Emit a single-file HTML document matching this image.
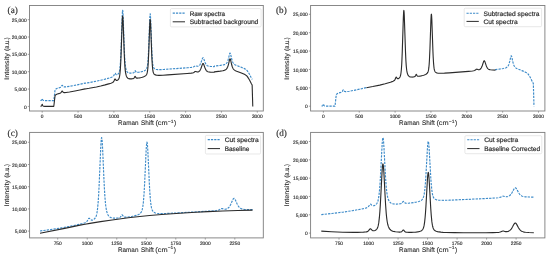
<!DOCTYPE html>
<html><head><meta charset="utf-8"><title>Raman spectra figure</title>
<style>
html,body{margin:0;padding:0;background:#fff;}
body{width:550px;height:255px;overflow:hidden;}
svg{display:block;filter:blur(0.3px);}
text.t{stroke-width:0.14px;}
text.lg{stroke-width:0.18px;}
text{font-family:"Liberation Sans", sans-serif;fill:#2a2a2a;stroke:#2a2a2a;stroke-width:0.1px;text-rendering:geometricPrecision;}
</style></head><body>
<svg width="550" height="255" viewBox="0 0 550 255">
<rect width="550" height="255" fill="#fff"/>
<text x="7.60" y="12.80" style="font-family:'Liberation Serif', serif;stroke-width:0.15px" font-size="9.2" fill="#222">(a)</text>
<rect x="29.50" y="5.50" width="233.80" height="105.50" fill="none" stroke="#7c7c7c" stroke-width="0.9"/>
<path d="M40.41,100.56 41.05,100.41 41.27,100.31 41.48,100.12 41.70,99.79 42.06,98.80 42.20,98.59 42.34,98.80 42.70,99.79 42.92,100.12 43.28,100.38 43.78,100.53 44.64,100.61 46.07,100.64 53.67,100.65 53.74,100.55 53.82,100.27 53.96,99.30 54.96,90.74 55.11,89.93 55.25,89.53 55.97,88.94 56.76,88.50 57.40,88.27 59.62,87.63 60.12,87.43 60.56,87.20 60.84,86.99 61.13,86.69 61.85,85.53 62.06,85.29 62.20,85.28 62.35,85.38 63.06,86.37 63.35,86.62 63.64,86.77 64.07,86.89 64.57,86.93 66.08,86.83 69.52,86.30 74.97,85.30 79.91,84.29 85.15,83.13 85.22,83.21 89.16,82.56 96.41,81.20 100.71,80.27 105.15,79.16 109.53,77.92 110.96,77.45 112.04,77.04 112.54,76.80 112.97,76.54 113.25,76.29 113.54,75.96 113.97,75.24 114.69,73.61 114.83,73.38 114.98,73.26 115.12,73.26 115.26,73.37 116.05,74.47 116.27,74.65 116.55,74.77 116.91,74.77 117.34,74.60 117.77,74.31 118.20,73.90 118.56,73.43 118.92,72.77 119.21,72.02 119.49,70.92 119.71,69.78 119.92,68.24 120.35,63.56 120.71,57.50 121.07,49.16 122.22,15.38 122.43,11.65 122.58,10.44 122.65,10.27 122.72,10.38 122.86,11.47 123.08,15.02 124.30,49.40 124.66,56.86 125.09,62.94 125.30,65.02 125.59,67.09 125.87,68.59 126.23,69.92 126.59,70.84 127.02,71.61 127.52,72.21 128.17,72.68 128.60,72.87 129.10,73.02 130.25,73.17 131.82,73.13 133.12,72.93 133.62,72.72 133.98,72.41 134.33,71.87 134.84,70.85 135.05,70.65 135.12,70.66 135.27,70.79 135.77,71.68 136.06,72.06 136.34,72.28 136.70,72.40 137.35,72.42 138.49,72.29 140.00,72.03 141.50,71.70 142.65,71.39 143.66,71.04 144.44,70.69 145.16,70.28 145.73,69.83 146.24,69.29 146.60,68.72 146.88,68.06 147.10,67.37 147.31,66.44 147.67,64.08 147.96,61.16 148.24,57.03 148.75,46.39 149.68,20.29 149.97,15.10 150.11,13.96 150.18,13.81 150.25,13.94 150.40,15.05 150.61,18.59 151.76,49.49 152.04,55.33 152.40,60.63 152.76,64.03 152.98,65.39 153.26,66.63 153.55,67.44 153.84,67.97 154.20,68.42 154.70,68.81 155.27,69.10 155.99,69.33 156.78,69.49 157.78,69.59 160.29,69.62 164.23,69.43 187.46,67.74 191.34,67.40 192.55,67.21 193.42,66.96 194.13,66.59 195.14,65.85 195.57,65.70 195.92,65.76 196.64,66.07 197.07,66.20 197.50,66.25 198.00,66.19 198.58,65.98 199.15,65.60 199.65,65.08 200.16,64.36 200.59,63.53 201.02,62.49 202.38,58.58 202.74,57.93 202.88,57.80 203.02,57.75 203.17,57.79 203.31,57.91 203.67,58.54 205.03,62.37 205.46,63.38 205.89,64.19 206.32,64.81 206.82,65.34 207.33,65.70 207.97,66.00 208.97,66.26 210.26,66.43 211.99,66.53 214.28,66.59 214.35,66.16 220.30,65.40 222.88,64.99 224.32,64.60 224.89,64.37 225.47,64.06 225.97,63.70 226.40,63.30 226.76,62.87 227.11,62.32 227.62,61.31 228.05,60.14 228.55,58.33 229.55,53.99 229.84,53.25 229.98,53.10 230.05,53.08 230.27,53.28 230.56,54.04 231.63,58.77 232.20,60.78 232.56,61.73 232.92,62.48 233.28,63.08 233.71,63.65 234.50,64.40 235.50,65.02 236.65,65.51 240.74,67.07 243.82,68.34 245.33,69.12 246.62,70.03 247.33,70.82 248.27,72.23 249.63,74.56 251.13,77.54 252.28,79.41" fill="none" stroke="#3d8bc9" stroke-width="1.15" stroke-dasharray="2.3 1.1" stroke-linejoin="round"/>
<path d="M40.41,106.28 41.05,106.14 41.27,106.03 41.48,105.84 41.70,105.51 42.06,104.52 42.20,104.31 42.34,104.52 42.70,105.51 42.92,105.84 43.28,106.11 43.78,106.25 44.64,106.33 46.07,106.37 53.67,106.37 53.74,106.27 53.82,105.99 53.96,105.03 54.96,96.47 55.11,95.65 55.25,95.26 55.97,94.66 56.76,94.23 57.40,93.99 59.62,93.35 60.12,93.16 60.56,92.93 60.84,92.71 61.13,92.42 61.85,91.25 62.06,91.02 62.20,91.00 62.35,91.10 63.06,92.10 63.35,92.34 63.64,92.50 64.07,92.61 64.57,92.65 66.08,92.55 69.52,92.03 74.97,91.02 79.91,90.02 85.15,88.85 85.22,88.93 89.16,88.29 96.41,86.93 100.71,86.00 105.15,84.89 109.53,83.64 110.96,83.18 112.04,82.77 112.54,82.53 112.97,82.26 113.25,82.02 113.54,81.69 113.97,80.97 114.69,79.33 114.83,79.10 114.98,78.98 115.12,78.98 115.26,79.09 116.05,80.20 116.27,80.38 116.55,80.50 116.91,80.49 117.34,80.33 117.77,80.04 118.20,79.62 118.56,79.16 118.92,78.50 119.21,77.74 119.49,76.65 119.71,75.50 119.92,73.97 120.35,69.29 120.71,63.23 121.07,54.89 122.22,21.10 122.43,17.37 122.58,16.17 122.65,15.99 122.72,16.11 122.86,17.20 123.08,20.74 124.30,55.13 124.66,62.59 125.01,67.84 125.23,70.11 125.52,72.36 125.80,73.98 126.09,75.17 126.45,76.23 126.88,77.11 127.31,77.71 127.88,78.23 128.31,78.48 128.81,78.67 129.96,78.87 130.75,78.91 131.61,78.88 132.40,78.80 133.04,78.67 133.55,78.48 133.98,78.13 134.33,77.59 134.84,76.57 135.05,76.37 135.12,76.38 135.27,76.52 135.77,77.40 136.06,77.78 136.34,78.00 136.70,78.12 137.35,78.14 138.28,78.05 139.64,77.83 141.15,77.51 142.36,77.20 143.44,76.85 144.37,76.45 145.09,76.05 145.66,75.62 146.17,75.10 146.60,74.44 146.88,73.78 147.10,73.10 147.31,72.16 147.67,69.80 147.96,66.89 148.24,62.75 148.75,52.11 149.68,26.02 149.97,20.83 150.11,19.68 150.18,19.53 150.25,19.67 150.40,20.78 150.61,24.32 151.69,53.54 151.97,59.74 152.33,65.46 152.69,69.21 152.90,70.71 153.12,71.80 153.34,72.59 153.62,73.32 153.91,73.80 154.34,74.28 154.84,74.62 155.49,74.91 156.27,75.13 157.14,75.26 158.14,75.33 159.43,75.35 162.94,75.23 167.82,74.92 187.18,73.49 191.26,73.13 192.55,72.94 193.42,72.69 194.13,72.31 195.14,71.57 195.57,71.43 195.92,71.49 196.64,71.80 197.07,71.93 197.50,71.97 198.00,71.91 198.58,71.70 199.15,71.32 199.65,70.81 200.16,70.08 200.59,69.25 201.02,68.22 202.38,64.31 202.74,63.66 202.88,63.53 203.02,63.48 203.17,63.52 203.31,63.64 203.67,64.27 205.03,68.10 205.46,69.11 205.89,69.92 206.32,70.54 206.82,71.06 207.33,71.42 207.97,71.72 208.97,71.98 210.26,72.15 211.99,72.26 214.28,72.31 214.35,71.88 220.23,71.14 222.81,70.73 224.25,70.35 224.82,70.13 225.39,69.83 225.90,69.49 226.33,69.10 226.68,68.69 227.04,68.17 227.54,67.21 228.05,65.87 228.55,64.05 229.55,59.72 229.84,58.98 229.98,58.83 230.05,58.81 230.27,59.00 230.56,59.77 231.63,64.50 232.20,66.51 232.56,67.45 232.92,68.21 233.28,68.81 233.71,69.38 234.50,70.13 235.50,70.75 236.65,71.24 240.74,72.80 243.82,74.06 245.33,74.84 246.62,75.76 246.98,76.12 247.41,76.65 248.34,78.07 249.63,80.29 251.13,83.27 252.14,84.92 252.78,106.40" fill="none" stroke="#2b2b2b" stroke-width="1.12" stroke-linejoin="round"/>
<line x1="42.20" y1="111.00" x2="42.20" y2="112.70" stroke="#7c7c7c" stroke-width="0.7"/>
<text class="t" x="42.20" y="117.80" font-size="4.85" text-anchor="middle">0</text>
<line x1="78.05" y1="111.00" x2="78.05" y2="112.70" stroke="#7c7c7c" stroke-width="0.7"/>
<text class="t" x="78.05" y="117.80" font-size="4.85" text-anchor="middle">500</text>
<line x1="113.90" y1="111.00" x2="113.90" y2="112.70" stroke="#7c7c7c" stroke-width="0.7"/>
<text class="t" x="113.90" y="117.80" font-size="4.85" text-anchor="middle">1000</text>
<line x1="149.75" y1="111.00" x2="149.75" y2="112.70" stroke="#7c7c7c" stroke-width="0.7"/>
<text class="t" x="149.75" y="117.80" font-size="4.85" text-anchor="middle">1500</text>
<line x1="185.60" y1="111.00" x2="185.60" y2="112.70" stroke="#7c7c7c" stroke-width="0.7"/>
<text class="t" x="185.60" y="117.80" font-size="4.85" text-anchor="middle">2000</text>
<line x1="221.45" y1="111.00" x2="221.45" y2="112.70" stroke="#7c7c7c" stroke-width="0.7"/>
<text class="t" x="221.45" y="117.80" font-size="4.85" text-anchor="middle">2500</text>
<line x1="257.30" y1="111.00" x2="257.30" y2="112.70" stroke="#7c7c7c" stroke-width="0.7"/>
<text class="t" x="257.30" y="117.80" font-size="4.85" text-anchor="middle">3000</text>
<line x1="27.80" y1="106.40" x2="29.50" y2="106.40" stroke="#7c7c7c" stroke-width="0.7"/>
<text class="t" x="26.70" y="108.50" font-size="4.85" text-anchor="end">0</text>
<line x1="27.80" y1="89.05" x2="29.50" y2="89.05" stroke="#7c7c7c" stroke-width="0.7"/>
<text class="t" x="26.70" y="91.15" font-size="4.85" text-anchor="end">5,000</text>
<line x1="27.80" y1="71.70" x2="29.50" y2="71.70" stroke="#7c7c7c" stroke-width="0.7"/>
<text class="t" x="26.70" y="73.80" font-size="4.85" text-anchor="end">10,000</text>
<line x1="27.80" y1="54.35" x2="29.50" y2="54.35" stroke="#7c7c7c" stroke-width="0.7"/>
<text class="t" x="26.70" y="56.45" font-size="4.85" text-anchor="end">15,000</text>
<line x1="27.80" y1="37.00" x2="29.50" y2="37.00" stroke="#7c7c7c" stroke-width="0.7"/>
<text class="t" x="26.70" y="39.10" font-size="4.85" text-anchor="end">20,000</text>
<line x1="27.80" y1="19.65" x2="29.50" y2="19.65" stroke="#7c7c7c" stroke-width="0.7"/>
<text class="t" x="26.70" y="21.75" font-size="4.85" text-anchor="end">25,000</text>
<text x="118.10" y="125.10" font-size="6.70" textLength="20.40" lengthAdjust="spacingAndGlyphs">Raman</text>
<text x="141.00" y="125.10" font-size="6.70" textLength="12.80" lengthAdjust="spacingAndGlyphs">Shift</text>
<text x="155.40" y="125.10" font-size="6.70" textLength="12.30" lengthAdjust="spacingAndGlyphs">(cm</text>
<text x="167.80" y="122.60" font-size="4.82" textLength="5.70" lengthAdjust="spacingAndGlyphs">&#8722;1</text>
<text x="173.90" y="125.10" font-size="6.70">)</text>
<text transform="translate(8.90,0) rotate(-90)" x="-79.80" y="0" font-size="6.70" textLength="26.60" lengthAdjust="spacingAndGlyphs">Intensity</text>
<text transform="translate(8.90,0) rotate(-90)" x="-50.80" y="0" font-size="6.70" textLength="13.60" lengthAdjust="spacingAndGlyphs">(a.u.)</text>
<rect x="170.40" y="8.60" width="90.70" height="18.30" rx="1.2" fill="#fff" fill-opacity="0.85" stroke="#d9d9d9" stroke-width="0.6"/>
<line x1="172.70" y1="13.10" x2="185.00" y2="13.10" stroke="#3d8bc9" stroke-width="1.05" stroke-dasharray="2.2 1.05"/>
<text class="lg" x="189.70" y="15.80" font-size="6.50" textLength="35.40" lengthAdjust="spacingAndGlyphs">Raw spectra</text>
<line x1="172.70" y1="21.80" x2="185.00" y2="21.80" stroke="#2b2b2b" stroke-width="1.0"/>
<text class="lg" x="189.70" y="23.80" font-size="6.50" textLength="68.60" lengthAdjust="spacingAndGlyphs">Subtracted background</text>
<text x="276.00" y="12.80" style="font-family:'Liberation Serif', serif;stroke-width:0.15px" font-size="9.2" fill="#222">(b)</text>
<rect x="310.60" y="5.50" width="234.30" height="105.50" fill="none" stroke="#7c7c7c" stroke-width="0.9"/>
<path d="M321.61,106.08 322.25,105.92 322.47,105.81 322.68,105.61 322.90,105.26 323.26,104.21 323.40,103.99 323.54,104.21 323.90,105.26 324.12,105.61 324.48,105.89 324.98,106.04 325.84,106.13 327.27,106.17 334.87,106.17 334.94,106.07 335.02,105.77 335.16,104.74 336.16,95.68 336.31,94.82 336.45,94.40 337.17,93.77 337.96,93.31 338.60,93.06 340.82,92.38 341.32,92.17 341.76,91.93 342.04,91.70 342.33,91.38 343.05,90.15 343.26,89.91 343.40,89.89 343.55,89.99 344.26,91.05 344.48,91.25 344.77,91.44 345.13,91.56 345.56,91.63 346.70,91.59 349.43,91.20 353.94,90.36 359.97,89.10 366.35,87.61 366.42,87.69" fill="none" stroke="#3d8bc9" stroke-width="1.15" stroke-dasharray="2.3 1.1" stroke-linejoin="round"/>
<path d="M495.48,70.09 495.55,69.63 502.00,68.76 503.58,68.50 504.73,68.24 505.52,67.99 506.16,67.71 506.74,67.37 507.24,66.97 507.74,66.43 508.17,65.82 508.60,65.01 508.96,64.13 509.60,61.94 510.75,56.75 511.04,55.97 511.18,55.80 511.33,55.81 511.54,56.14 511.83,57.08 512.83,61.81 513.40,63.94 513.76,64.94 514.12,65.74 514.48,66.38 514.91,66.98 515.70,67.77 516.20,68.14 516.70,68.43 517.85,68.95 521.94,70.60 525.02,71.94 526.53,72.77 527.17,73.22 527.82,73.74 528.18,74.12 528.61,74.68 529.54,76.19 530.83,78.54 532.33,81.69 533.34,83.45 533.98,106.20" fill="none" stroke="#3d8bc9" stroke-width="1.15" stroke-dasharray="2.3 1.1" stroke-linejoin="round"/>
<path d="M366.42,87.69 372.80,86.56 379.76,85.10 385.21,83.73 390.44,82.18 392.02,81.65 393.09,81.23 393.81,80.87 394.31,80.51 394.67,80.12 394.96,79.68 395.24,79.10 395.89,77.53 396.03,77.28 396.18,77.16 396.32,77.16 396.46,77.27 397.04,78.17 397.32,78.51 397.61,78.71 397.97,78.77 398.47,78.62 399.04,78.21 399.55,77.66 399.98,76.95 400.26,76.28 400.55,75.32 400.76,74.32 400.98,72.98 401.34,69.69 401.70,64.60 401.98,58.90 402.27,51.63 403.35,17.61 403.63,11.89 403.78,10.61 403.85,10.43 403.92,10.55 404.06,11.70 404.28,15.46 405.50,51.89 405.85,59.79 406.21,65.35 406.43,67.76 406.72,70.14 407.00,71.86 407.29,73.12 407.65,74.24 408.08,75.17 408.58,75.89 409.22,76.45 409.66,76.69 410.16,76.86 411.30,77.05 412.09,77.07 412.95,77.03 413.74,76.93 414.32,76.81 414.82,76.58 415.18,76.25 415.53,75.68 416.04,74.60 416.25,74.39 416.32,74.40 416.47,74.54 416.97,75.48 417.26,75.88 417.54,76.11 417.90,76.24 418.55,76.27 419.62,76.15 421.06,75.89 422.56,75.54 423.78,75.20 424.78,74.84 425.64,74.44 426.36,74.00 426.93,73.53 427.44,72.95 427.80,72.35 428.08,71.65 428.30,70.92 428.51,69.93 428.87,67.43 429.16,64.34 429.44,59.96 429.95,48.69 430.88,21.05 431.17,15.55 431.31,14.33 431.38,14.17 431.45,14.32 431.60,15.50 431.81,19.24 432.89,50.20 433.17,56.77 433.53,62.83 433.89,66.80 434.10,68.39 434.32,69.55 434.53,70.39 434.82,71.16 435.18,71.77 435.61,72.23 436.11,72.58 436.76,72.87 437.55,73.08 438.48,73.22 439.55,73.30 440.84,73.31 444.43,73.16 449.16,72.84 468.45,71.33 472.46,70.95 473.75,70.75 474.62,70.49 475.33,70.09 476.34,69.31 476.77,69.15 477.12,69.21 477.84,69.54 478.27,69.68 478.70,69.73 479.20,69.67 479.78,69.44 480.35,69.04 480.85,68.50 481.36,67.72 481.79,66.85 482.22,65.75 483.58,61.61 483.94,60.92 484.08,60.78 484.22,60.73 484.37,60.77 484.51,60.90 484.87,61.57 486.16,65.43 486.80,67.00 487.45,68.11 487.81,68.55 488.17,68.89 488.60,69.19 489.10,69.43 489.74,69.64 490.46,69.79 492.47,70.00 495.48,70.09" fill="none" stroke="#2b2b2b" stroke-width="1.12" stroke-linejoin="round"/>
<line x1="323.40" y1="111.00" x2="323.40" y2="112.70" stroke="#7c7c7c" stroke-width="0.7"/>
<text class="t" x="323.40" y="117.80" font-size="4.85" text-anchor="middle">0</text>
<line x1="359.25" y1="111.00" x2="359.25" y2="112.70" stroke="#7c7c7c" stroke-width="0.7"/>
<text class="t" x="359.25" y="117.80" font-size="4.85" text-anchor="middle">500</text>
<line x1="395.10" y1="111.00" x2="395.10" y2="112.70" stroke="#7c7c7c" stroke-width="0.7"/>
<text class="t" x="395.10" y="117.80" font-size="4.85" text-anchor="middle">1000</text>
<line x1="430.95" y1="111.00" x2="430.95" y2="112.70" stroke="#7c7c7c" stroke-width="0.7"/>
<text class="t" x="430.95" y="117.80" font-size="4.85" text-anchor="middle">1500</text>
<line x1="466.80" y1="111.00" x2="466.80" y2="112.70" stroke="#7c7c7c" stroke-width="0.7"/>
<text class="t" x="466.80" y="117.80" font-size="4.85" text-anchor="middle">2000</text>
<line x1="502.65" y1="111.00" x2="502.65" y2="112.70" stroke="#7c7c7c" stroke-width="0.7"/>
<text class="t" x="502.65" y="117.80" font-size="4.85" text-anchor="middle">2500</text>
<line x1="538.50" y1="111.00" x2="538.50" y2="112.70" stroke="#7c7c7c" stroke-width="0.7"/>
<text class="t" x="538.50" y="117.80" font-size="4.85" text-anchor="middle">3000</text>
<line x1="308.90" y1="106.20" x2="310.60" y2="106.20" stroke="#7c7c7c" stroke-width="0.7"/>
<text class="t" x="307.80" y="108.30" font-size="4.85" text-anchor="end">0</text>
<line x1="308.90" y1="87.82" x2="310.60" y2="87.82" stroke="#7c7c7c" stroke-width="0.7"/>
<text class="t" x="307.80" y="89.92" font-size="4.85" text-anchor="end">5,000</text>
<line x1="308.90" y1="69.44" x2="310.60" y2="69.44" stroke="#7c7c7c" stroke-width="0.7"/>
<text class="t" x="307.80" y="71.54" font-size="4.85" text-anchor="end">10,000</text>
<line x1="308.90" y1="51.06" x2="310.60" y2="51.06" stroke="#7c7c7c" stroke-width="0.7"/>
<text class="t" x="307.80" y="53.16" font-size="4.85" text-anchor="end">15,000</text>
<line x1="308.90" y1="32.68" x2="310.60" y2="32.68" stroke="#7c7c7c" stroke-width="0.7"/>
<text class="t" x="307.80" y="34.78" font-size="4.85" text-anchor="end">20,000</text>
<line x1="308.90" y1="14.30" x2="310.60" y2="14.30" stroke="#7c7c7c" stroke-width="0.7"/>
<text class="t" x="307.80" y="16.40" font-size="4.85" text-anchor="end">25,000</text>
<text x="399.10" y="125.10" font-size="6.70" textLength="20.40" lengthAdjust="spacingAndGlyphs">Raman</text>
<text x="422.00" y="125.10" font-size="6.70" textLength="12.80" lengthAdjust="spacingAndGlyphs">Shift</text>
<text x="436.40" y="125.10" font-size="6.70" textLength="12.30" lengthAdjust="spacingAndGlyphs">(cm</text>
<text x="448.80" y="122.60" font-size="4.82" textLength="5.70" lengthAdjust="spacingAndGlyphs">&#8722;1</text>
<text x="454.90" y="125.10" font-size="6.70">)</text>
<text transform="translate(289.00,0) rotate(-90)" x="-79.80" y="0" font-size="6.70" textLength="26.60" lengthAdjust="spacingAndGlyphs">Intensity</text>
<text transform="translate(289.00,0) rotate(-90)" x="-50.80" y="0" font-size="6.70" textLength="13.60" lengthAdjust="spacingAndGlyphs">(a.u.)</text>
<rect x="464.20" y="8.20" width="77.40" height="18.50" rx="1.2" fill="#fff" fill-opacity="0.85" stroke="#d9d9d9" stroke-width="0.6"/>
<line x1="466.50" y1="13.20" x2="478.80" y2="13.20" stroke="#3d8bc9" stroke-width="1.05" stroke-dasharray="2.2 1.05"/>
<text class="lg" x="483.50" y="15.80" font-size="6.50" textLength="56.00" lengthAdjust="spacingAndGlyphs">Subtracted spectra</text>
<line x1="466.50" y1="21.40" x2="478.80" y2="21.40" stroke="#2b2b2b" stroke-width="1.0"/>
<text class="lg" x="483.50" y="23.80" font-size="6.50" textLength="34.10" lengthAdjust="spacingAndGlyphs">Cut spectra</text>
<text x="7.60" y="135.60" style="font-family:'Liberation Serif', serif;stroke-width:0.15px" font-size="9.2" fill="#222">(c)</text>
<rect x="29.60" y="132.40" width="233.70" height="105.50" fill="none" stroke="#7c7c7c" stroke-width="0.9"/>
<path d="M40.00,230.95 50.51,229.57 56.88,228.63 61.96,227.81 66.33,227.04 70.93,226.16 75.30,225.25 79.55,224.29 82.15,223.65 83.92,223.14 85.10,222.71 85.93,222.27 86.52,221.79 86.99,221.26 87.46,220.57 88.53,218.67 88.76,218.37 89.00,218.22 89.24,218.22 89.47,218.36 90.42,219.44 90.89,219.86 91.36,220.10 91.95,220.17 92.31,220.13 92.78,219.99 93.72,219.49 94.55,218.82 95.26,217.98 95.73,217.16 96.20,216.00 96.56,214.79 96.91,213.17 97.26,211.01 97.50,209.20 98.09,203.05 98.56,196.16 99.03,187.39 100.81,146.29 101.04,142.28 101.28,139.39 101.51,137.84 101.63,137.62 101.75,137.77 101.99,139.16 102.34,143.70 102.70,150.47 103.76,175.38 104.35,187.70 104.94,197.24 105.53,203.96 105.88,206.87 106.36,209.75 106.83,211.82 107.30,213.34 107.89,214.70 108.60,215.82 108.95,216.24 109.43,216.69 109.90,217.04 110.49,217.37 111.20,217.65 112.02,217.87 112.85,218.00 113.91,218.09 115.21,218.12 116.63,218.07 117.93,217.95 118.87,217.80 119.70,217.53 120.29,217.13 120.88,216.44 121.70,215.13 121.94,214.92 122.06,214.88 122.18,214.89 122.41,215.06 123.24,216.20 123.71,216.68 124.18,216.96 124.77,217.12 125.84,217.15 127.61,217.00 129.97,216.69 132.45,216.27 134.46,215.85 136.11,215.42 137.53,214.94 138.71,214.41 139.65,213.84 140.48,213.14 141.07,212.41 141.54,211.57 141.89,210.69 142.25,209.49 142.60,207.87 142.84,206.48 143.31,202.74 143.78,197.45 144.14,192.31 144.61,183.83 146.14,150.45 146.38,146.59 146.62,143.81 146.85,142.34 146.97,142.15 147.09,142.32 147.33,143.74 147.68,148.27 148.03,154.90 149.45,185.66 149.92,193.59 150.51,200.92 150.75,203.11 151.10,205.71 151.46,207.63 151.81,209.03 152.17,210.04 152.64,210.97 153.23,211.72 153.94,212.27 154.76,212.69 155.83,213.04 157.13,213.30 158.66,213.47 160.43,213.56 162.56,213.57 168.46,213.40 176.25,213.00 208.01,211.18 214.63,210.73 216.75,210.48 218.17,210.17 219.35,209.69 221.00,208.74 221.36,208.61 221.71,208.55 222.30,208.63 223.48,209.03 224.19,209.19 224.90,209.25 225.72,209.17 226.67,208.90 227.61,208.42 228.44,207.76 229.27,206.83 229.97,205.77 230.68,204.45 232.45,200.40 232.93,199.44 233.28,198.88 233.52,198.61 233.75,198.44 233.99,198.38 234.23,198.43 234.46,198.59 234.70,198.84 235.05,199.39 235.52,200.33 237.18,204.05 237.77,205.18 238.24,205.96 238.71,206.62 239.30,207.29 239.89,207.82 240.48,208.23 241.19,208.60 242.02,208.89 243.08,209.15 244.26,209.33 245.80,209.47 247.57,209.57 252.53,209.68" fill="none" stroke="#3d8bc9" stroke-width="1.15" stroke-dasharray="2.3 1.1" stroke-linejoin="round"/>
<path d="M40.00,233.32 64.68,228.35 80.03,225.17 84.98,224.22 89.94,223.35 100.57,221.64 112.14,219.96 128.32,217.81 139.77,216.44 149.57,215.48 161.73,214.50 179.79,213.25 195.73,212.28 207.90,211.67 222.77,211.05 237.77,210.54 252.53,210.14" fill="none" stroke="#2b2b2b" stroke-width="1.12" stroke-linejoin="round"/>
<line x1="57.71" y1="237.90" x2="57.71" y2="239.60" stroke="#7c7c7c" stroke-width="0.7"/>
<text class="t" x="57.71" y="245.20" font-size="4.85" text-anchor="middle">750</text>
<line x1="87.23" y1="237.90" x2="87.23" y2="239.60" stroke="#7c7c7c" stroke-width="0.7"/>
<text class="t" x="87.23" y="245.20" font-size="4.85" text-anchor="middle">1000</text>
<line x1="116.75" y1="237.90" x2="116.75" y2="239.60" stroke="#7c7c7c" stroke-width="0.7"/>
<text class="t" x="116.75" y="245.20" font-size="4.85" text-anchor="middle">1250</text>
<line x1="146.26" y1="237.90" x2="146.26" y2="239.60" stroke="#7c7c7c" stroke-width="0.7"/>
<text class="t" x="146.26" y="245.20" font-size="4.85" text-anchor="middle">1500</text>
<line x1="175.78" y1="237.90" x2="175.78" y2="239.60" stroke="#7c7c7c" stroke-width="0.7"/>
<text class="t" x="175.78" y="245.20" font-size="4.85" text-anchor="middle">1750</text>
<line x1="205.30" y1="237.90" x2="205.30" y2="239.60" stroke="#7c7c7c" stroke-width="0.7"/>
<text class="t" x="205.30" y="245.20" font-size="4.85" text-anchor="middle">2000</text>
<line x1="234.82" y1="237.90" x2="234.82" y2="239.60" stroke="#7c7c7c" stroke-width="0.7"/>
<text class="t" x="234.82" y="245.20" font-size="4.85" text-anchor="middle">2250</text>
<line x1="27.90" y1="231.10" x2="29.60" y2="231.10" stroke="#7c7c7c" stroke-width="0.7"/>
<text class="t" x="26.80" y="233.20" font-size="4.85" text-anchor="end">5,000</text>
<line x1="27.90" y1="208.90" x2="29.60" y2="208.90" stroke="#7c7c7c" stroke-width="0.7"/>
<text class="t" x="26.80" y="211.00" font-size="4.85" text-anchor="end">10,000</text>
<line x1="27.90" y1="186.70" x2="29.60" y2="186.70" stroke="#7c7c7c" stroke-width="0.7"/>
<text class="t" x="26.80" y="188.80" font-size="4.85" text-anchor="end">15,000</text>
<line x1="27.90" y1="164.50" x2="29.60" y2="164.50" stroke="#7c7c7c" stroke-width="0.7"/>
<text class="t" x="26.80" y="166.60" font-size="4.85" text-anchor="end">20,000</text>
<line x1="27.90" y1="142.30" x2="29.60" y2="142.30" stroke="#7c7c7c" stroke-width="0.7"/>
<text class="t" x="26.80" y="144.40" font-size="4.85" text-anchor="end">25,000</text>
<text x="118.00" y="251.90" font-size="6.70" textLength="20.40" lengthAdjust="spacingAndGlyphs">Raman</text>
<text x="140.90" y="251.90" font-size="6.70" textLength="12.80" lengthAdjust="spacingAndGlyphs">Shift</text>
<text x="155.30" y="251.90" font-size="6.70" textLength="12.30" lengthAdjust="spacingAndGlyphs">(cm</text>
<text x="167.70" y="249.40" font-size="4.82" textLength="5.70" lengthAdjust="spacingAndGlyphs">&#8722;1</text>
<text x="173.80" y="251.90" font-size="6.70">)</text>
<text transform="translate(8.90,0) rotate(-90)" x="-206.60" y="0" font-size="6.70" textLength="26.60" lengthAdjust="spacingAndGlyphs">Intensity</text>
<text transform="translate(8.90,0) rotate(-90)" x="-177.60" y="0" font-size="6.70" textLength="13.60" lengthAdjust="spacingAndGlyphs">(a.u.)</text>
<rect x="205.40" y="135.40" width="55.20" height="18.60" rx="1.2" fill="#fff" fill-opacity="0.85" stroke="#d9d9d9" stroke-width="0.6"/>
<line x1="207.70" y1="139.60" x2="220.00" y2="139.60" stroke="#3d8bc9" stroke-width="1.05" stroke-dasharray="2.2 1.05"/>
<text class="lg" x="224.70" y="142.10" font-size="6.50" textLength="34.10" lengthAdjust="spacingAndGlyphs">Cut spectra</text>
<line x1="207.70" y1="148.60" x2="220.00" y2="148.60" stroke="#2b2b2b" stroke-width="1.0"/>
<text class="lg" x="224.70" y="150.60" font-size="6.50" textLength="24.70" lengthAdjust="spacingAndGlyphs">Baseline</text>
<text x="276.20" y="135.60" style="font-family:'Liberation Serif', serif;stroke-width:0.15px" font-size="9.2" fill="#222">(d)</text>
<rect x="310.60" y="132.40" width="234.30" height="105.50" fill="none" stroke="#7c7c7c" stroke-width="0.9"/>
<path d="M321.30,214.65 331.81,213.52 343.26,212.07 352.23,210.70 360.85,209.16 363.45,208.63 365.22,208.21 366.40,207.85 367.23,207.49 367.82,207.10 368.29,206.66 368.76,206.09 369.83,204.52 370.06,204.28 370.30,204.15 370.54,204.15 370.77,204.27 371.72,205.16 372.19,205.50 372.66,205.70 373.25,205.76 374.08,205.61 375.02,205.20 375.85,204.65 376.56,203.95 377.03,203.28 377.50,202.32 377.86,201.32 378.21,199.99 378.56,198.20 378.80,196.71 379.39,191.63 379.86,185.95 380.34,178.71 382.11,144.80 382.34,141.48 382.58,139.10 382.81,137.82 382.93,137.64 383.05,137.76 383.29,138.91 383.64,142.66 384.00,148.24 385.06,168.80 385.65,178.96 386.24,186.84 386.83,192.39 387.18,194.78 387.66,197.16 388.13,198.87 388.60,200.12 389.19,201.25 389.90,202.17 390.73,202.89 391.20,203.18 391.79,203.45 392.50,203.68 393.32,203.86 395.21,204.04 396.51,204.07 397.93,204.03 399.23,203.93 400.17,203.80 401.00,203.58 401.59,203.25 402.18,202.68 403.00,201.61 403.24,201.43 403.36,201.39 403.48,201.41 403.71,201.55 404.54,202.48 405.01,202.88 405.48,203.11 406.07,203.24 407.14,203.26 408.91,203.14 411.27,202.89 413.75,202.54 415.76,202.20 417.41,201.84 418.83,201.44 420.01,201.00 420.95,200.53 421.78,199.96 422.37,199.36 422.84,198.66 423.19,197.93 423.55,196.95 423.90,195.61 424.14,194.46 424.61,191.38 425.08,187.01 425.44,182.77 425.91,175.78 427.44,148.22 427.68,145.04 427.92,142.75 428.15,141.53 428.27,141.37 428.39,141.52 428.63,142.69 428.98,146.43 429.33,151.90 430.75,177.28 431.22,183.83 431.81,189.88 432.05,191.68 432.40,193.83 432.76,195.42 433.11,196.57 433.47,197.40 433.94,198.17 434.53,198.78 435.24,199.24 436.06,199.59 437.13,199.88 438.43,200.09 439.96,200.23 441.73,200.30 443.86,200.32 449.76,200.17 457.55,199.85 489.31,198.34 495.93,197.97 498.05,197.77 499.47,197.51 500.65,197.11 502.30,196.33 502.66,196.22 503.01,196.17 503.60,196.23 504.78,196.56 505.49,196.70 506.20,196.75 507.02,196.69 507.97,196.46 508.91,196.06 509.74,195.52 510.57,194.75 511.27,193.87 511.98,192.78 513.75,189.45 514.23,188.65 514.58,188.19 514.82,187.97 515.05,187.83 515.29,187.78 515.53,187.82 515.76,187.95 516.00,188.16 516.35,188.61 516.82,189.39 518.48,192.46 519.07,193.39 519.54,194.03 520.01,194.58 520.60,195.13 521.19,195.57 521.78,195.91 522.49,196.21 523.32,196.45 524.38,196.66 525.56,196.81 528.87,197.02 533.83,197.10" fill="none" stroke="#3d8bc9" stroke-width="1.15" stroke-dasharray="2.3 1.1" stroke-linejoin="round"/>
<path d="M321.30,231.14 331.57,231.74 342.79,232.19 353.42,232.37 357.67,232.36 361.33,232.28 363.57,232.18 365.22,232.05 366.40,231.87 367.23,231.63 367.82,231.33 368.29,230.96 368.76,230.45 369.83,229.04 370.06,228.83 370.30,228.73 370.54,228.77 370.77,228.92 371.72,229.94 372.19,230.35 372.66,230.61 373.25,230.76 374.08,230.71 375.02,230.43 375.85,229.99 376.56,229.39 377.03,228.77 377.50,227.88 377.86,226.93 378.21,225.64 378.56,223.90 378.80,222.44 379.39,217.44 379.86,211.82 380.34,204.64 382.11,170.95 382.34,167.66 382.58,165.31 382.81,164.06 382.93,163.89 383.05,164.03 383.29,165.21 383.64,169.00 384.00,174.63 385.06,195.32 385.65,205.55 386.24,213.50 386.59,217.13 386.95,220.00 387.30,222.24 387.77,224.49 388.25,226.13 388.84,227.60 389.43,228.64 390.13,229.54 390.96,230.27 391.43,230.58 392.02,230.89 392.73,231.17 393.56,231.42 395.45,231.79 398.05,232.05 399.23,232.09 400.17,232.07 401.00,231.93 401.59,231.67 402.18,231.17 403.00,230.18 403.24,230.03 403.36,230.01 403.48,230.03 403.71,230.20 404.54,231.23 405.01,231.68 405.48,231.96 406.07,232.15 407.14,232.29 408.91,232.36 411.27,232.35 413.75,232.26 415.76,232.11 417.41,231.92 418.83,231.65 420.01,231.32 420.95,230.94 421.78,230.44 422.37,229.89 422.84,229.23 423.19,228.54 423.55,227.58 423.90,226.27 424.14,225.14 424.61,222.10 425.08,217.78 425.44,213.56 425.91,206.61 427.44,179.18 427.68,176.01 427.92,173.73 428.15,172.54 428.27,172.39 428.39,172.54 428.63,173.73 428.98,177.50 429.33,183.00 430.75,208.48 431.22,215.06 431.81,221.15 432.05,222.98 432.40,225.15 432.76,226.76 433.11,227.94 433.47,228.80 433.94,229.60 434.53,230.25 435.24,230.76 436.18,231.21 437.48,231.62 439.02,231.93 440.90,232.17 443.15,232.35 445.98,232.49 454.25,232.67 463.46,232.74 475.50,232.76 485.89,232.73 492.86,232.65 496.87,232.52 499.00,232.32 500.29,232.00 502.18,231.18 502.89,231.01 503.48,231.06 504.78,231.45 505.49,231.61 506.20,231.68 506.91,231.65 507.85,231.48 508.80,231.13 509.62,230.64 510.45,229.93 511.16,229.11 511.86,228.08 512.57,226.84 513.75,224.60 514.23,223.81 514.58,223.36 514.82,223.14 515.05,223.01 515.29,222.97 515.53,223.02 515.76,223.15 516.00,223.37 516.35,223.83 516.82,224.62 518.48,227.73 519.07,228.68 519.54,229.33 520.01,229.89 520.60,230.46 521.19,230.91 521.78,231.26 522.49,231.58 523.32,231.84 524.38,232.08 525.56,232.25 528.99,232.54 533.83,232.72" fill="none" stroke="#2b2b2b" stroke-width="1.12" stroke-linejoin="round"/>
<line x1="339.01" y1="237.90" x2="339.01" y2="239.60" stroke="#7c7c7c" stroke-width="0.7"/>
<text class="t" x="339.01" y="245.20" font-size="4.85" text-anchor="middle">750</text>
<line x1="368.53" y1="237.90" x2="368.53" y2="239.60" stroke="#7c7c7c" stroke-width="0.7"/>
<text class="t" x="368.53" y="245.20" font-size="4.85" text-anchor="middle">1000</text>
<line x1="398.05" y1="237.90" x2="398.05" y2="239.60" stroke="#7c7c7c" stroke-width="0.7"/>
<text class="t" x="398.05" y="245.20" font-size="4.85" text-anchor="middle">1250</text>
<line x1="427.56" y1="237.90" x2="427.56" y2="239.60" stroke="#7c7c7c" stroke-width="0.7"/>
<text class="t" x="427.56" y="245.20" font-size="4.85" text-anchor="middle">1500</text>
<line x1="457.08" y1="237.90" x2="457.08" y2="239.60" stroke="#7c7c7c" stroke-width="0.7"/>
<text class="t" x="457.08" y="245.20" font-size="4.85" text-anchor="middle">1750</text>
<line x1="486.60" y1="237.90" x2="486.60" y2="239.60" stroke="#7c7c7c" stroke-width="0.7"/>
<text class="t" x="486.60" y="245.20" font-size="4.85" text-anchor="middle">2000</text>
<line x1="516.12" y1="237.90" x2="516.12" y2="239.60" stroke="#7c7c7c" stroke-width="0.7"/>
<text class="t" x="516.12" y="245.20" font-size="4.85" text-anchor="middle">2250</text>
<line x1="308.90" y1="233.10" x2="310.60" y2="233.10" stroke="#7c7c7c" stroke-width="0.7"/>
<text class="t" x="307.80" y="235.20" font-size="4.85" text-anchor="end">0</text>
<line x1="308.90" y1="214.78" x2="310.60" y2="214.78" stroke="#7c7c7c" stroke-width="0.7"/>
<text class="t" x="307.80" y="216.88" font-size="4.85" text-anchor="end">5,000</text>
<line x1="308.90" y1="196.46" x2="310.60" y2="196.46" stroke="#7c7c7c" stroke-width="0.7"/>
<text class="t" x="307.80" y="198.56" font-size="4.85" text-anchor="end">10,000</text>
<line x1="308.90" y1="178.14" x2="310.60" y2="178.14" stroke="#7c7c7c" stroke-width="0.7"/>
<text class="t" x="307.80" y="180.24" font-size="4.85" text-anchor="end">15,000</text>
<line x1="308.90" y1="159.82" x2="310.60" y2="159.82" stroke="#7c7c7c" stroke-width="0.7"/>
<text class="t" x="307.80" y="161.92" font-size="4.85" text-anchor="end">20,000</text>
<line x1="308.90" y1="141.50" x2="310.60" y2="141.50" stroke="#7c7c7c" stroke-width="0.7"/>
<text class="t" x="307.80" y="143.60" font-size="4.85" text-anchor="end">25,000</text>
<text x="399.10" y="251.90" font-size="6.70" textLength="20.40" lengthAdjust="spacingAndGlyphs">Raman</text>
<text x="422.00" y="251.90" font-size="6.70" textLength="12.80" lengthAdjust="spacingAndGlyphs">Shift</text>
<text x="436.40" y="251.90" font-size="6.70" textLength="12.30" lengthAdjust="spacingAndGlyphs">(cm</text>
<text x="448.80" y="249.40" font-size="4.82" textLength="5.70" lengthAdjust="spacingAndGlyphs">&#8722;1</text>
<text x="454.90" y="251.90" font-size="6.70">)</text>
<text transform="translate(289.00,0) rotate(-90)" x="-206.60" y="0" font-size="6.70" textLength="26.60" lengthAdjust="spacingAndGlyphs">Intensity</text>
<text transform="translate(289.00,0) rotate(-90)" x="-177.60" y="0" font-size="6.70" textLength="13.60" lengthAdjust="spacingAndGlyphs">(a.u.)</text>
<rect x="464.90" y="135.70" width="76.90" height="18.00" rx="1.2" fill="#fff" fill-opacity="0.85" stroke="#d9d9d9" stroke-width="0.6"/>
<line x1="467.20" y1="139.80" x2="479.50" y2="139.80" stroke="#3d8bc9" stroke-width="1.05" stroke-dasharray="2.2 1.05"/>
<text class="lg" x="484.20" y="142.00" font-size="6.50" textLength="34.10" lengthAdjust="spacingAndGlyphs">Cut spectra</text>
<line x1="467.20" y1="148.60" x2="479.50" y2="148.60" stroke="#2b2b2b" stroke-width="1.0"/>
<text class="lg" x="484.20" y="150.70" font-size="6.50" textLength="56.00" lengthAdjust="spacingAndGlyphs">Baseline Corrected</text>
</svg>
</body></html>
